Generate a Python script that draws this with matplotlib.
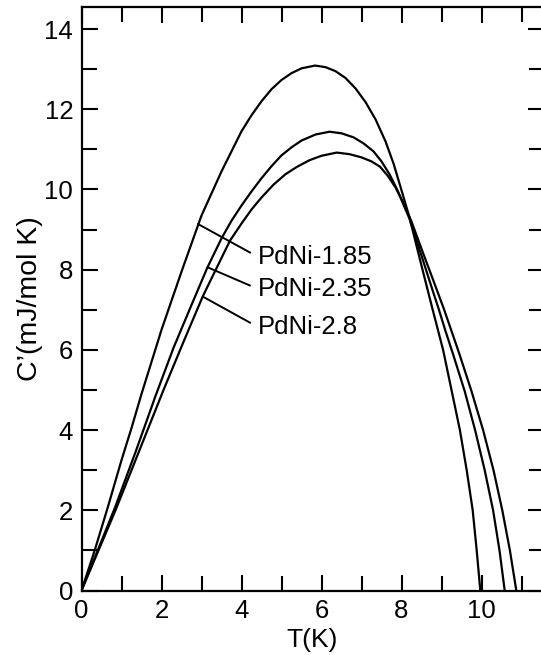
import matplotlib.pyplot as plt
from matplotlib.ticker import MultipleLocator

plt.rcParams['font.family'] = ['Liberation Sans', 'DejaVu Sans']

# PdNi-1.85
t_185 = [0, 0.33, 0.65, 1.0, 1.25, 1.5, 2.0, 2.5, 3.0, 3.5, 4.0, 4.25, 4.5, 4.75, 5.0, 5.25,
         5.5, 5.84, 6.1, 6.35, 6.6, 6.85, 7.1, 7.35, 7.6, 7.8, 8.0, 8.2, 8.5, 8.78, 9.04,
         9.25, 9.46, 9.63, 9.78, 9.88, 9.97]
c_185 = [0, 1.0, 2.05, 3.25, 4.05, 4.9, 6.5, 7.95, 9.35, 10.45, 11.45, 11.85, 12.2, 12.5, 12.73, 12.9,
         13.02, 13.09, 13.05, 12.95, 12.78, 12.52, 12.18, 11.75, 11.2, 10.65, 9.98, 9.3, 8.1, 7.0, 6.0,
         5.0, 4.0, 3.0, 2.0, 1.0, 0]

# PdNi-2.35
t_235 = [0, 0.83, 1.35, 1.85, 2.3, 2.75, 3.15, 3.5, 3.75, 4.0, 4.25, 4.5, 4.75, 5.0, 5.25, 5.5,
         5.85, 6.2, 6.5, 6.8, 7.05, 7.3, 7.5, 7.7, 7.9, 8.05, 8.2, 8.5, 8.75, 8.93, 9.1, 9.28,
         9.58, 9.84, 10.08, 10.29, 10.45, 10.58]
c_235 = [0, 2.05, 3.45, 4.85, 6.05, 7.12, 8.06, 8.78, 9.22, 9.6, 9.95, 10.28, 10.58, 10.85, 11.05, 11.22,
         11.37, 11.44, 11.4, 11.3, 11.15, 10.95, 10.7, 10.38, 9.98, 9.62, 9.27, 8.35, 7.57, 7.02, 6.47, 5.92,
         4.97, 4.0, 3.0, 2.0, 1.0, 0]

# PdNi-2.8
t_28 = [0, 0.85, 1.45, 2.05, 2.55, 3.03, 3.21, 3.71, 4.0, 4.25, 4.5, 4.8, 5.1, 5.38, 5.7, 6.0,
        6.38, 6.7, 7.0, 7.25, 7.46, 7.65, 7.85, 8.05, 8.25, 8.5, 8.8, 9.06, 9.25, 9.44, 9.75,
        10.04, 10.3, 10.52, 10.71, 10.87]
c_28 = [0, 2.0, 3.5, 5.0, 6.2, 7.33, 7.7, 8.72, 9.15, 9.5, 9.8, 10.12, 10.38, 10.56, 10.73, 10.84,
        10.92, 10.88, 10.8, 10.7, 10.57, 10.35, 10.05, 9.66, 9.2, 8.52, 7.72, 7.02, 6.47, 5.92, 4.97,
        4.0, 3.0, 2.0, 1.0, 0]

labels = ['PdNi-1.85', 'PdNi-2.35', 'PdNi-2.8']
label_at = [(4.41, 8.32), (4.41, 7.52), (4.41, 6.57)]
leader_from = [(2.91, 9.14), (3.15, 8.06), (3.03, 7.33)]

fig = plt.figure(figsize=(5.41, 6.55), dpi=100)
ax = fig.add_axes([81.5/541, 64.5/655, 462/541, 583.5/655])

for t, c in [(t_185, c_185), (t_235, c_235), (t_28, c_28)]:
    ax.plot(t, c, color='black', lw=1.6)

for lab, xyt, xy in zip(labels, label_at, leader_from):
    ax.annotate(lab, xy=xy, xytext=xyt, ha='left', va='center', fontsize=18.5,
                arrowprops=dict(arrowstyle='-', color='black', lw=1.4,
                                shrinkA=4, shrinkB=0, relpos=(0, 0.5)))

ax.set_xlim(0, 11.55)
ax.set_ylim(0, 14.55)
ax.xaxis.set_major_locator(MultipleLocator(2))
ax.xaxis.set_minor_locator(MultipleLocator(1))
ax.yaxis.set_major_locator(MultipleLocator(2))
ax.yaxis.set_minor_locator(MultipleLocator(1))
ax.tick_params(which='both', direction='in', top=True, right=True, width=1.5,
               labelsize=18.5, pad=6)
ax.tick_params(which='major', length=11.5)
ax.tick_params(which='minor', length=10.5)
for s in ax.spines.values():
    s.set_linewidth(1.6)

ax.set_xlabel('T(K)', fontsize=19, labelpad=4)
ax.set_ylabel('C\u2019(mJ/mol K)', fontsize=20.5, labelpad=1)

fig.savefig('out.png', dpi=100)
